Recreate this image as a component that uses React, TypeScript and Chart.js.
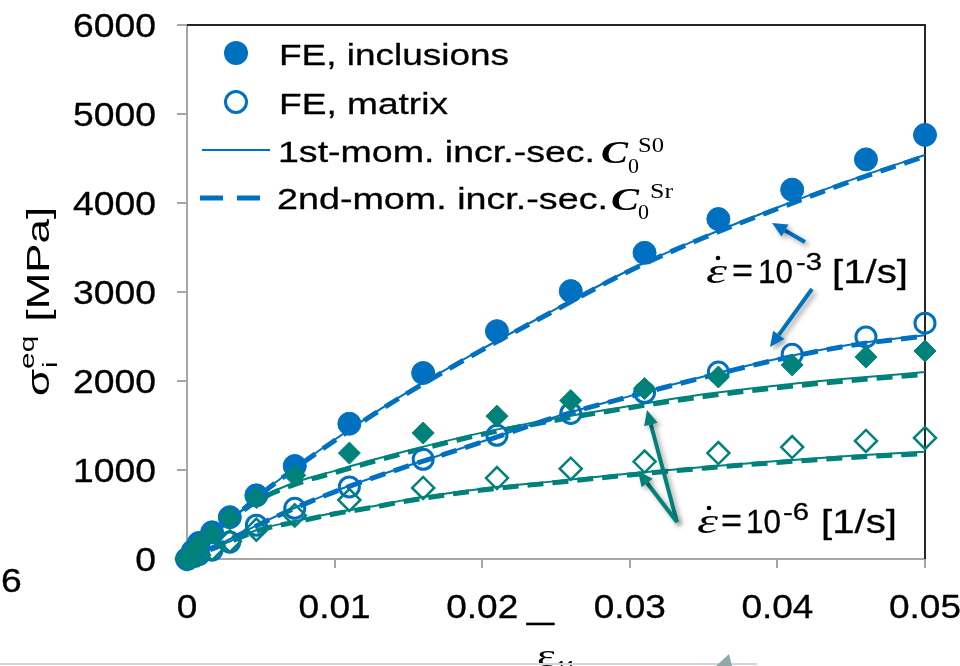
import React, { useEffect, useRef } from 'react';
import { Chart, registerables } from 'chart.js';

Chart.register(...registerables);

const BLUE = '#0070C0';
const TEAL = '#00827B';
const AXIS_GREY = '#A6A6A6';
const SANS = '"Liberation Sans", Arial, sans-serif';
const SERIF = '"Liberation Serif", "Times New Roman", serif';

// ---- FE results (markers) ----
const strainFE = [0, 0.0004, 0.0008, 0.0017, 0.0029, 0.0047, 0.0073, 0.011, 0.016, 0.021, 0.026, 0.031, 0.036, 0.041, 0.046, 0.05];
const feInclFast = [0, 90, 180, 300, 470, 715, 1045, 1520, 2090, 2560, 3010, 3440, 3820, 4150, 4490, 4765];
const feMatrixFast = [0, 25, 50, 100, 190, 380, 570, 810, 1120, 1390, 1635, 1870, 2100, 2300, 2495, 2650];
const feInclSlow = [0, 85, 170, 292, 460, 690, 940, 1190, 1416, 1605, 1780, 1915, 2045, 2180, 2270, 2337];
const feMatrixSlow = [0, 22, 45, 110, 200, 330, 490, 663, 798, 910, 1015, 1095, 1190, 1258, 1326, 1360];

// ---- model curves ----
const strainModel = [0, 0.0025, 0.005, 0.0075, 0.01, 0.0125, 0.015, 0.02, 0.025, 0.03, 0.035, 0.04, 0.045, 0.05];
const m1InclFast = [0, 370, 730, 1045, 1340, 1620, 1880, 2360, 2810, 3250, 3620, 3950, 4260, 4540];
const m2InclFast = [0, 365, 725, 1040, 1330, 1610, 1870, 2350, 2800, 3240, 3610, 3935, 4245, 4525];
const m1MatrixFast = [0, 190, 400, 590, 760, 910, 1050, 1320, 1600, 1830, 2050, 2250, 2410, 2515];
const m2MatrixFast = [0, 185, 395, 585, 755, 905, 1045, 1315, 1595, 1825, 2040, 2240, 2400, 2505];
const m1InclSlow = [0, 380, 690, 870, 990, 1110, 1220, 1420, 1580, 1720, 1850, 1950, 2030, 2100];
const m2InclSlow = [0, 375, 675, 850, 970, 1090, 1200, 1400, 1560, 1700, 1825, 1925, 2005, 2075];
const m1MatrixSlow = [0, 170, 340, 430, 520, 590, 670, 790, 875, 960, 1035, 1100, 1160, 1205];
const m2MatrixSlow = [0, 165, 330, 420, 508, 578, 655, 775, 860, 945, 1020, 1085, 1140, 1185];

// ---- axes ----
const xTickValues = [0, 0.01, 0.02, 0.03, 0.04, 0.05];
const xTickLabels = ['0', '0.01', '0.02', '0.03', '0.04', '0.05'];
const yTickValues = [0, 1000, 2000, 3000, 4000, 5000, 6000];
const yTickLabels = ['0', '1000', '2000', '3000', '4000', '5000', '6000'];

const legendLabels = ['FE, inclusions', 'FE, matrix', '1st-mom. incr.-sec.', '2nd-mom. incr.-sec.'];

type Align = 'left' | 'right' | 'center';
function txt(
  ctx: CanvasRenderingContext2D,
  s: string,
  x: number,
  y: number,
  font: string,
  color: string,
  align: Align = 'left',
  width?: number,
  sx?: number,
  bold = 0
): number {
  ctx.save();
  ctx.font = font;
  ctx.fillStyle = color;
  ctx.strokeStyle = color;
  ctx.textAlign = 'left';
  ctx.textBaseline = 'alphabetic';
  const w = ctx.measureText(s).width;
  const k = width ? width / w : sx ?? 1;
  const W = w * k;
  let x0 = x;
  if (align === 'right') x0 = x - W;
  else if (align === 'center') x0 = x - W / 2;
  ctx.translate(x0, y);
  ctx.scale(k, 1);
  ctx.fillText(s, 0, 0);
  if (bold > 0) {
    ctx.lineWidth = bold;
    ctx.lineJoin = 'round';
    ctx.strokeText(s, 0, 0);
  }
  ctx.restore();
  return W;
}

function arrow(ctx: CanvasRenderingContext2D, x1: number, y1: number, x2: number, y2: number, color: string) {
  const ang = Math.atan2(y2 - y1, x2 - x1);
  const head = 15;
  const half = 7;
  const bx = x2 - head * Math.cos(ang);
  const by = y2 - head * Math.sin(ang);
  ctx.save();
  ctx.shadowColor = 'rgba(0,0,0,0.35)';
  ctx.shadowBlur = 5;
  ctx.shadowOffsetX = 3;
  ctx.shadowOffsetY = 3;
  ctx.strokeStyle = color;
  ctx.fillStyle = color;
  ctx.lineWidth = 4;
  ctx.lineCap = 'butt';
  ctx.beginPath();
  ctx.moveTo(x1, y1);
  ctx.lineTo(bx, by);
  ctx.stroke();
  ctx.beginPath();
  ctx.moveTo(x2, y2);
  ctx.lineTo(bx + half * Math.sin(ang), by - half * Math.cos(ang));
  ctx.lineTo(bx - half * Math.sin(ang), by + half * Math.cos(ang));
  ctx.closePath();
  ctx.fill();
  ctx.restore();
}

const BOLD = 0.3;

const decorPlugin = {
  id: 'decor',
  beforeDatasetsDraw(chart: any) {
    const ctx: CanvasRenderingContext2D = chart.ctx;
    const { left, right, top, bottom } = chart.chartArea;
    ctx.save();
    ctx.strokeStyle = '#262626';
    ctx.lineWidth = 2;
    ctx.beginPath();
    ctx.moveTo(left, top);
    ctx.lineTo(right, top);
    ctx.lineTo(right, bottom);
    ctx.stroke();
    ctx.restore();
  },
  afterDraw(chart: any) {
    const ctx: CanvasRenderingContext2D = chart.ctx;
    const ax = chart.scales.x;
    const ay = chart.scales.y;
    const FT = `33px ${SANS}`;

    // tick labels
    ctx.font = FT;
    const kY = 83 / ctx.measureText('6000').width;
    const kX = 72 / ctx.measureText('0.05').width;
    yTickValues.forEach((v, i) => {
      txt(ctx, yTickLabels[i], 156, ay.getPixelForValue(v) + 12, FT, '#000', 'right', undefined, kY, BOLD);
    });
    xTickValues.forEach((v, i) => {
      txt(ctx, xTickLabels[i], ax.getPixelForValue(v), 618, FT, '#000', 'center', undefined, kX, BOLD);
    });

    // stray characters from the original slide
    txt(ctx, '_', 527, 618, FT, '#000', 'left', 27, undefined, BOLD);
    txt(ctx, '6', 1, 592, FT, '#000', 'left', undefined, kY, BOLD);

    // y-axis title (rotated)
    ctx.save();
    ctx.translate(49, 396);
    ctx.rotate(-Math.PI / 2);
    const FY = `31px ${SANS}`;
    const FYs = `21px ${SANS}`;
    ctx.font = FY;
    const wSig = ctx.measureText('σ').width;
    const wRest = ctx.measureText(' [MPa]').width;
    ctx.font = FYs;
    const wSup = Math.max(ctx.measureText('eq').width, ctx.measureText('i').width);
    const kT = 190 / (wSig + wSup + 2 + wRest);
    let p = 0;
    p += txt(ctx, 'σ', p, 0, FY, '#000', 'left', undefined, kT);
    txt(ctx, 'i', p + 1, 8, FYs, '#000', 'left', undefined, kT);
    txt(ctx, 'eq', p, -15, FYs, '#000', 'left', undefined, kT);
    p += wSup * kT + 2;
    txt(ctx, ' [MPa]', p, 0, FY, '#000', 'left', undefined, kT);
    ctx.restore();

    // x-axis title
    txt(ctx, 'ε', 537, 666, `31px ${SERIF}`, '#000', 'left', 19);
    txt(ctx, '11', 556, 676, `22px ${SANS}`, '#000', 'left', 20);

    // bottom slide line and arrow tip
    ctx.save();
    ctx.strokeStyle = '#D4D4E0';
    ctx.lineWidth = 2;
    ctx.beginPath();
    ctx.moveTo(0, 664);
    ctx.lineTo(757, 664);
    ctx.stroke();
    ctx.fillStyle = '#8FA9AB';
    ctx.beginPath();
    ctx.moveTo(716, 666);
    ctx.lineTo(729, 654);
    ctx.lineTo(732, 666);
    ctx.closePath();
    ctx.fill();
    ctx.restore();

    // legend
    const FL = `30px ${SANS}`;
    ctx.save();
    ctx.fillStyle = BLUE;
    ctx.beginPath();
    ctx.arc(236, 53, 12, 0, Math.PI * 2);
    ctx.fill();
    ctx.strokeStyle = BLUE;
    ctx.lineWidth = 3;
    ctx.beginPath();
    ctx.arc(236, 102, 10.5, 0, Math.PI * 2);
    ctx.stroke();
    ctx.lineWidth = 2;
    ctx.beginPath();
    ctx.moveTo(202, 150);
    ctx.lineTo(270, 150);
    ctx.stroke();
    ctx.lineWidth = 5;
    ctx.setLineDash([23, 14]);
    ctx.beginPath();
    ctx.moveTo(200, 198);
    ctx.lineTo(260, 198);
    ctx.stroke();
    ctx.restore();
    txt(ctx, legendLabels[0], 279, 65, FL, '#000', 'left', 230, undefined, BOLD);
    txt(ctx, legendLabels[1], 279, 114, FL, '#000', 'left', 169, undefined, BOLD);
    txt(ctx, legendLabels[2], 278, 162, FL, '#000', 'left', 317, undefined, BOLD);
    txt(ctx, 'C', 601, 163, `bold italic 32px ${SERIF}`, '#000', 'left', 27);
    txt(ctx, '0', 628, 173, `21px ${SERIF}`, '#000', 'left', 11);
    txt(ctx, 'S0', 638, 152, `21px ${SERIF}`, '#000', 'left', 26);
    txt(ctx, legendLabels[3], 277, 209, FL, '#000', 'left', 331, undefined, BOLD);
    txt(ctx, 'C', 611, 210, `bold italic 32px ${SERIF}`, '#000', 'left', 28);
    txt(ctx, '0', 638, 219, `21px ${SERIF}`, '#000', 'left', 11);
    txt(ctx, 'Sr', 650, 198, `21px ${SERIF}`, '#000', 'left', 23);

    // annotations
    const FA = `34px ${SANS}`;
    const drawRate = (y: number, exp: string, xs: number[]) => {
      txt(ctx, 'ε', xs[0], y, `italic 36px ${SERIF}`, '#000', 'left', 21);
      ctx.save();
      ctx.fillStyle = '#000';
      ctx.beginPath();
      ctx.arc(xs[0] + 12, y - 25, 2.3, 0, Math.PI * 2);
      ctx.fill();
      ctx.restore();
      txt(ctx, '=', xs[1], y - 1, FA, '#000', 'left', 21, undefined, BOLD);
      txt(ctx, '10', xs[2], y, FA, '#000', 'left', 35, undefined, BOLD);
      txt(ctx, exp, xs[3], y - 13, `23px ${SANS}`, '#000', 'left', 26, undefined, BOLD);
      txt(ctx, '[1/s]', xs[4], y, FA, '#000', 'left', 76, undefined, BOLD);
    };
    drawRate(283, '-3', [706, 732, 758, 796, 832]);
    drawRate(533, '-6', [697, 721, 746, 783, 821]);

    arrow(ctx, 805, 242, 772, 223, BLUE);
    arrow(ctx, 812, 289, 770, 347, BLUE);
    arrow(ctx, 677, 522, 647, 410, TEAL);
    arrow(ctx, 677, 522, 638, 471, TEAL);
  },
};

function pts(xs: number[], ys: number[]) {
  return xs.map((x, i) => ({ x, y: ys[i] }));
}

function lineDs(label: string, ys: number[], color: string, dashed: boolean, order: number) {
  return {
    label,
    data: pts(strainModel, ys),
    showLine: true,
    borderColor: color,
    backgroundColor: color,
    borderWidth: dashed ? 5 : 2,
    borderDash: dashed ? [16, 9] : [],
    pointRadius: 0,
    cubicInterpolationMode: 'monotone' as const,
    fill: false,
    clip: false as const,
    order,
  };
}

export default function App() {
  const ref = useRef<HTMLCanvasElement | null>(null);
  useEffect(() => {
    if (!ref.current) return;
    const chart = new Chart(ref.current, {
      type: 'scatter',
      data: {
        datasets: [
          { label: 'FE inclusions 1e-6', data: pts(strainFE, feInclSlow), pointStyle: 'rectRot', pointRadius: 11, backgroundColor: TEAL, borderColor: TEAL, borderWidth: 1, clip: false, order: 0 },
          { label: 'FE matrix 1e-6', data: pts(strainFE, feMatrixSlow), pointStyle: 'rectRot', pointRadius: 11, backgroundColor: 'rgba(0,0,0,0)', borderColor: TEAL, borderWidth: 2.5, clip: false, order: 1 },
          { label: 'FE inclusions 1e-3', data: pts(strainFE, feInclFast), pointStyle: 'circle', pointRadius: 11.5, backgroundColor: BLUE, borderColor: BLUE, borderWidth: 1, clip: false, order: 2 },
          { label: 'FE matrix 1e-3', data: pts(strainFE, feMatrixFast), pointStyle: 'circle', pointRadius: 10, backgroundColor: 'rgba(0,0,0,0)', borderColor: BLUE, borderWidth: 3, clip: false, order: 3 },
          lineDs('1st-mom incl 1e-3', m1InclFast, BLUE, false, 4),
          lineDs('2nd-mom incl 1e-3', m2InclFast, BLUE, true, 5),
          lineDs('1st-mom matrix 1e-3', m1MatrixFast, BLUE, false, 6),
          lineDs('2nd-mom matrix 1e-3', m2MatrixFast, BLUE, true, 7),
          lineDs('1st-mom incl 1e-6', m1InclSlow, TEAL, false, 8),
          lineDs('2nd-mom incl 1e-6', m2InclSlow, TEAL, true, 9),
          lineDs('1st-mom matrix 1e-6', m1MatrixSlow, TEAL, false, 10),
          lineDs('2nd-mom matrix 1e-6', m2MatrixSlow, TEAL, true, 11),
        ] as any,
      },
      options: {
        animation: false,
        responsive: true,
        maintainAspectRatio: false,
        events: [],
        layout: { padding: { left: 0, top: 25, right: 35, bottom: 0 } },
        plugins: { legend: { display: false }, tooltip: { enabled: false }, title: { display: false } },
        scales: {
          x: {
            type: 'linear',
            min: 0,
            max: 0.05,
            ticks: { stepSize: 0.01, display: false },
            grid: { drawOnChartArea: false, drawTicks: true, tickLength: 9, color: AXIS_GREY, lineWidth: 2 },
            border: { display: true, color: AXIS_GREY, width: 2 },
            afterFit: (s: any) => {
              s.height = 107;
            },
          },
          y: {
            type: 'linear',
            min: 0,
            max: 6000,
            ticks: { stepSize: 1000, display: false },
            grid: { drawOnChartArea: false, drawTicks: true, tickLength: 10, color: AXIS_GREY, lineWidth: 2 },
            border: { display: true, color: AXIS_GREY, width: 2 },
            afterFit: (s: any) => {
              s.width = 187;
            },
          },
        },
      },
      plugins: [decorPlugin],
    });
    return () => chart.destroy();
  }, []);
  return (
    <div style={{ position: 'absolute', left: 0, top: 0, width: 960, height: 666, background: '#fff' }}>
      <canvas ref={ref} />
    </div>
  );
}
